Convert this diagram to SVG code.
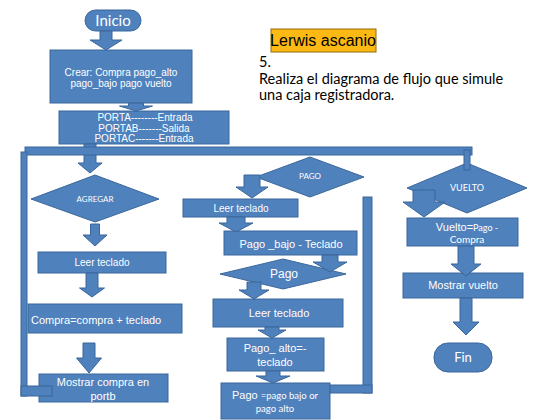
<svg xmlns="http://www.w3.org/2000/svg" width="560" height="420" viewBox="0 0 560 420">
<style>
.n{fill:#4f81bd;stroke:#3b679b;stroke-width:1}
.c{fill:#4f81bd;stroke:#3b679b;stroke-width:1}
.w{fill:#ffffff;font-family:"Liberation Sans",Arial,sans-serif}
.l{fill:#ffffff;font-family:Lato,"Open Sans",sans-serif}
.m{text-anchor:middle}
.k{fill:#000000;font-family:Lato,"Open Sans",sans-serif;font-size:14.5px}
</style>
<rect width="560" height="420" fill="#ffffff"/>

<g id="title">
<rect x="271" y="29" width="105" height="23" fill="#fdb913" stroke="#8f6c0c" stroke-width="1"/>
<text x="323" y="46" text-anchor="middle" font-family="Liberation Sans,Arial,sans-serif" font-size="16" fill="#000">Lerwis ascanio</text>
</g>
<g id="task">
<text class="k" x="259" y="67">5.</text>
<text class="k" x="259" y="84">Realiza el diagrama de flujo que simule</text>
<text class="k" x="259" y="100">una caja registradora.</text>
</g>

<g id="inicio">
<rect class="n" x="85" y="10" width="56" height="21" rx="10.5"/>
<text class="l m" x="113" y="26" font-size="15">Inicio</text>
</g>
<g id="crear">
<rect class="n" x="50" y="50" width="142" height="53"/>
<text class="w m" x="121" y="75.5" font-size="10">Crear: Compra pago_alto</text>
<text class="w m" x="121" y="86.5" font-size="10">pago_bajo pago vuelto</text>
</g>
<g id="puertos">
<rect class="n" x="59" y="111" width="170" height="33"/>
<text class="w m" x="145" y="120.5" font-size="10">PORTA--------Entrada</text>
<text class="w m" x="144" y="131.5" font-size="10">PORTAB-------Salida</text>
<text class="w m" x="144" y="141.5" font-size="10">PORTAC-------Entrada</text>
</g>

<g id="agregar">
<polygon class="n" points="31,199 95,175 159,199 95,222"/>
<text class="l m" x="95" y="202" font-size="8">AGREGAR</text>
</g>
<g id="leer1">
<rect class="n" x="38" y="252" width="128" height="21"/>
<text class="w m" x="102" y="265.5" font-size="10">Leer teclado</text>
</g>
<g id="compra">
<rect class="n" x="28" y="304" width="154" height="29"/>
<text class="w" x="31" y="324" font-size="11">Compra=compra + teclado</text>
</g>
<g id="mostrarcompra">
<rect class="n" x="39" y="374" width="129" height="28"/>
<text class="w m" x="103" y="386" font-size="11">Mostrar compra en</text>
<text class="w m" x="103" y="400" font-size="11">portb</text>
</g>

<g id="pago">
<polygon class="n" points="256,177 310,157 364,177 310,197"/>
<text class="l m" x="310" y="179" font-size="8">PAGO</text>
</g>
<g id="leer2">
<rect class="n" x="183" y="199" width="115" height="18"/>
<text class="w m" x="241" y="211.5" font-size="10">Leer teclado</text>
</g>
<g id="pagobajo">
<rect class="n" x="224" y="231" width="133" height="24"/>
<text class="w m" x="291" y="248" font-size="11">Pago _bajo - Teclado</text>
</g>
<g id="pagodec">
<polygon class="n" points="220,274 283,259 346,274 283,289"/>
<text class="w m" x="284" y="278" font-size="12">Pago</text>
</g>
<g id="leer3">
<rect class="n" x="213" y="299" width="130" height="28"/>
<text class="w m" x="279" y="317" font-size="11">Leer teclado</text>
</g>
<g id="pagoalto">
<rect class="n" x="227" y="338" width="97" height="33"/>
<text class="w m" x="275" y="352" font-size="11">Pago_ alto=-</text>
<text class="w m" x="275" y="366" font-size="11">teclado</text>
</g>
<g id="pagototal">
<rect class="n" x="221" y="383" width="109" height="36"/>
<text class="m" x="275" y="399"><tspan class="w" font-size="11">Pago </tspan><tspan class="l" font-size="9.5">=pago bajo or</tspan></text>
<text class="l m" x="275" y="412" font-size="9.5">pago alto</text>
</g>

<g id="vueltodec">
<polygon class="n" points="407,188 467,163 527,188 467,213"/>
<text class="l m" x="467" y="191" font-size="9">VUELTO</text>
</g>
<g id="vuelto">
<rect class="n" x="407" y="218" width="111" height="28"/>
<text class="m" x="467" y="231"><tspan class="w" font-size="11">Vuelto=</tspan><tspan class="l" font-size="9">Pago -</tspan></text>
<text class="l m" x="467" y="243" font-size="10">Compra</text>
</g>
<g id="mostrarvuelto">
<rect class="n" x="403" y="273" width="120" height="25"/>
<text class="w m" x="463" y="289" font-size="11">Mostrar vuelto</text>
</g>
<g id="fin">
<rect class="n" x="434" y="343" width="58" height="29" rx="14"/>
<text class="l m" x="463" y="362" font-size="13">Fin</text>
</g>

<g id="connectors">
<path class="c" d="M100,31 H112 V40 H122 L106,50 L90,40 H100 Z"/>
<path class="c" d="M128.5,103 H143.5 V106 H152.5 L136,111 L119.5,106 H128.5 Z"/>
<path class="c" d="M84,144 H96 V163 H102 L90,173 L78,163 H84 Z"/>
<rect class="c" x="25" y="147" width="447" height="8"/>
<rect class="c" x="21" y="152" width="6" height="244"/>
<rect class="c" x="21" y="386" width="31" height="10"/>
<rect class="c" x="464" y="150" width="6" height="20"/>
<path class="c" d="M90.5,224 H99.5 V235 H107 L95,246 L83,235 H90.5 Z"/>
<path class="c" d="M86,273 H98 V288 H104.5 L92,297 L79.5,288 H86 Z"/>
<path class="c" d="M83,343 H95 V358 H101.5 L89,373 L76.5,358 H83 Z"/>
<path class="c" d="M244,175 H260 V187 H268 L252,198 L236,187 H244 Z"/>
<path class="c" d="M227,217 H245 V223 H253 L236,232 L219,223 H227 Z"/>
<path class="c" d="M322,255 H338 V262 H347 L330,272 L313,262 H322 Z"/>
<path class="c" d="M247,282 H261 V290 H269 L254,299 L239,290 H247 Z"/>
<path class="c" d="M265,327 H279 V330 H286 L272,338 L258,330 H265 Z"/>
<path class="c" d="M266,371 H280 V376 H290 L273,383 L256,376 H266 Z"/>
<rect class="c" x="363" y="197" width="9" height="196"/>
<rect class="c" x="330" y="385" width="42" height="8"/>
<path class="c" d="M413,190 H435 V202 H445 L424,217 L403,202 H413 Z"/>
<path class="c" d="M458,246 H474 V264 H481 L466,276 L451,264 H458 Z"/>
<path class="c" d="M460,298 H472 V322 H479 L466,335 L453,322 H460 Z"/>
</g>
</svg>
